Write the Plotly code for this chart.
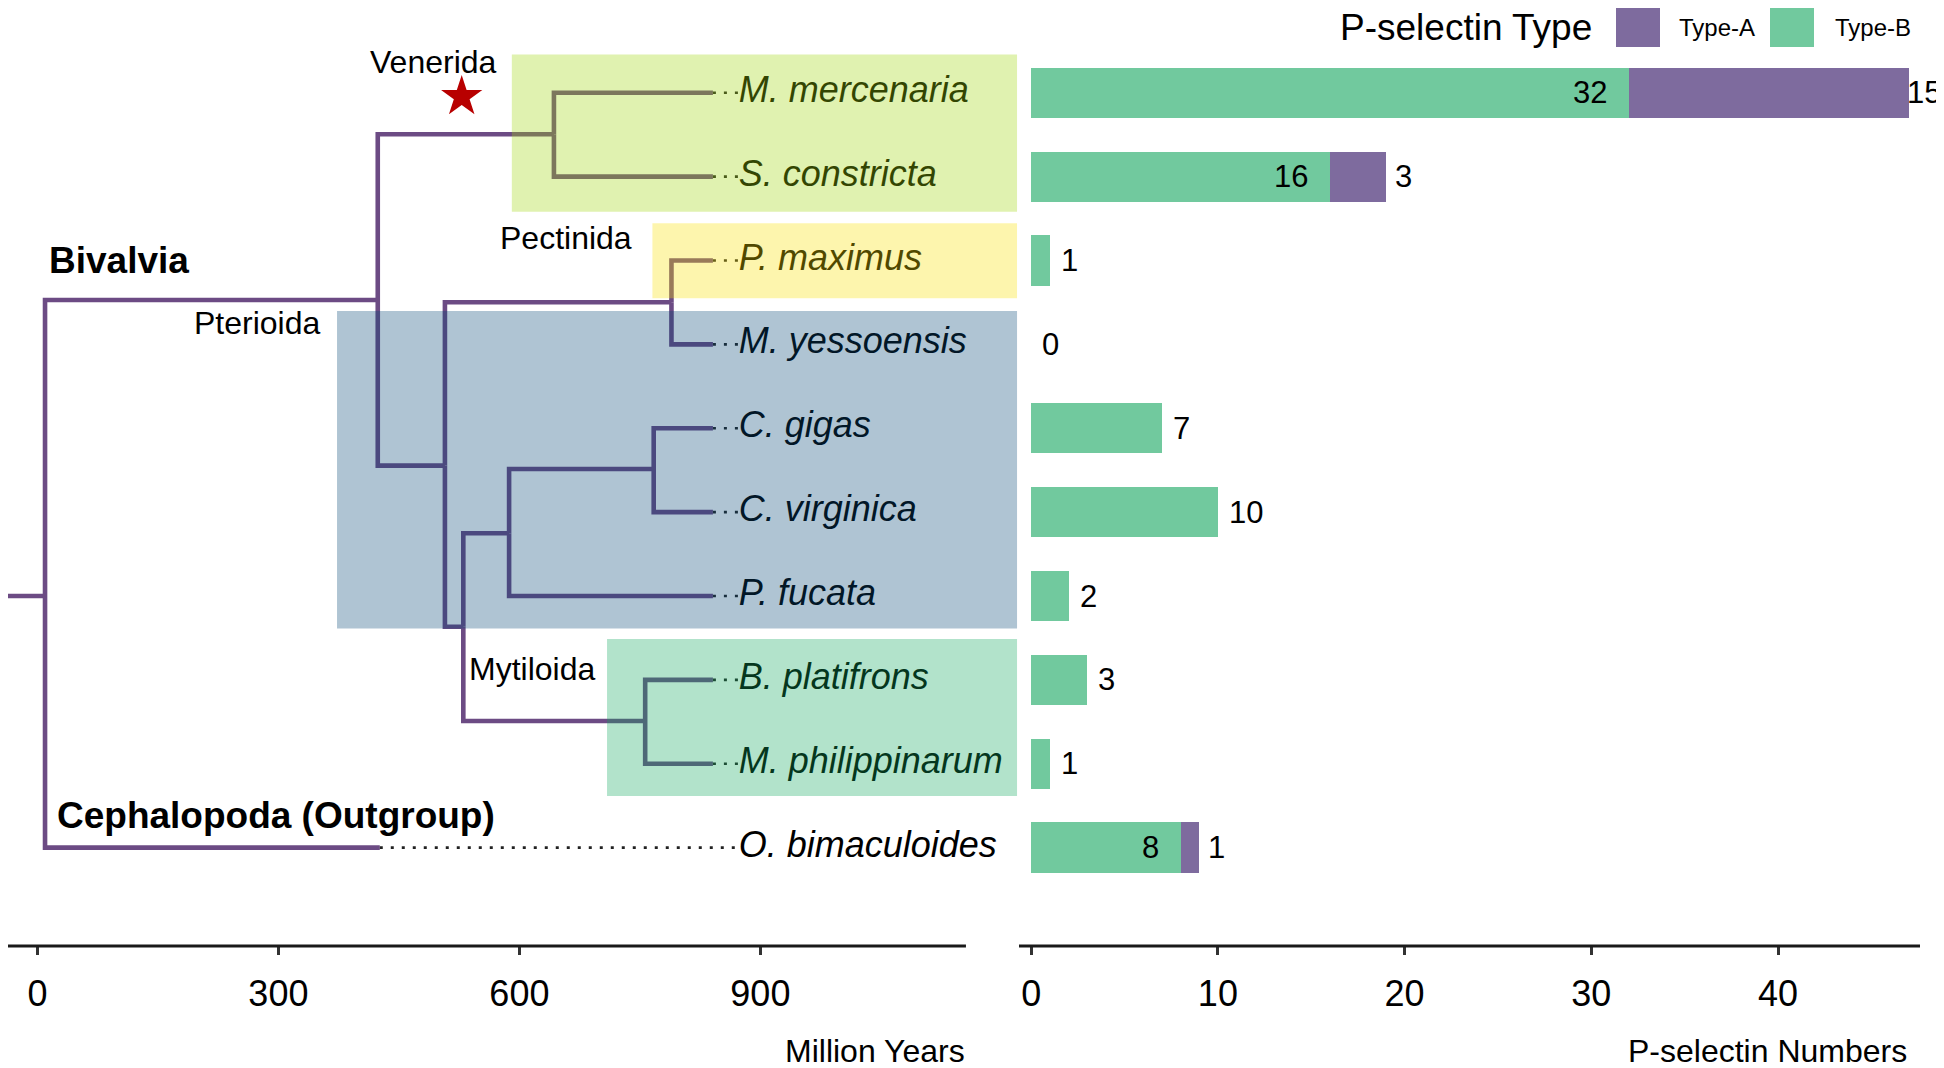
import plotly.graph_objects as go

# page body has an 8px margin, so the figure is drawn 8px smaller and offset
PAGE_W, PAGE_H = 1944, 1068
OFF = 8
W, H = PAGE_W - OFF, PAGE_H - OFF
FONT = "Liberation Sans, Arial, sans-serif"

# ---------------- data ----------------
species = ["M. mercenaria", "S. constricta", "P. maximus", "M. yessoensis", "C. gigas",
           "C. virginica", "P. fucata", "B. platifrons", "M. philippinarum", "O. bimaculoides"]
rows = [10, 9, 8, 7, 6, 5, 4, 3, 2, 1]
type_b = [32, 16, 1, 0, 7, 10, 2, 3, 1, 8]
type_a = [15, 3, 0, 0, 0, 0, 0, 0, 0, 1]

# tree nodes: name, parent, age position (million years), row position
node_names = ["root", "Bivalvia", "Venerida", "Pteriomorphia", "Pectinida", "nB", "nC",
              "Crassostrea", "Mytiloida"] + species
node_parent = [None, "root", "Bivalvia", "Bivalvia", "Pteriomorphia", "Pteriomorphia", "nB",
               "nC", "nB",
               "Venerida", "Venerida", "Pectinida", "Pectinida", "Crassostrea", "Crassostrea",
               "nC", "Mytiloida", "Mytiloida", "root"]
node_x = [9.5, 423.7, 643.0, 507.3, 789.3, 530.2, 587.2, 767.2, 756.6,
          840.9, 840.9, 840.9, 840.9, 840.9, 840.9, 840.9, 840.9, 840.9, 426.2]
node_y = [4.0, 7.53, 9.505, 5.555, 7.502, 3.634, 4.748, 5.514, 2.51] + rows
root_stub_x = -40.3
label_x = 873.0          # aligned tip labels

# clade highlight boxes
clade_names = ["Venerida", "Pectinida", "Pterioida", "Mytiloida"]
clade_x0 = [590.6, 765.6, 373.0, 709.1]
clade_y0 = [8.581, 7.551, 3.613, 1.616]
clade_y1 = [10.458, 8.446, 7.398, 3.486]
clade_colors = ["rgb(158,214,8)", "rgb(249,224,0)", "rgb(5,71,118)", "rgb(14,167,92)"]
clade_label_x = [575.0, 742.7, 355.9, 696.2]
clade_label_y = [10.367, 8.273, 7.255, 3.135]
box_right = 1219.5

group_labels = ["Bivalvia", "Cephalopoda (Outgroup)"]
group_label_x = [12.0, 22.0]
group_label_y = [8.006, 1.389]

star_x, star_y = 528.2, 9.953

years_ticks = [0, 300, 600, 900]
count_ticks = [0, 10, 20, 30, 40]

# ---------------- layout geometry ----------------
def px_x(p):
    return (p - OFF) / W

def px_y(p):
    return 1 - (p - OFF) / H

y_dom = [px_y(946), 1.0]
y_rng = [-0.173, 10 + (92.8 - OFF) / 83.87]
x2_rng = [-0.653, (1944 - 1031.2) / 18.67]

fig = go.Figure()

# tree edges (elbow layout)
pos = {n: (x, y) for n, x, y in zip(node_names, node_x, node_y)}
ex, ey = [root_stub_x, pos["root"][0], None], [pos["root"][1], pos["root"][1], None]
for n, p in zip(node_names, node_parent):
    if p is None:
        continue
    px_, py_ = pos[p]
    cx, cy = pos[n]
    ex += [px_, px_, cx, None]
    ey += [py_, cy, cy, None]
fig.add_trace(go.Scatter(x=ex, y=ey, mode="lines", xaxis="x", yaxis="y",
                         line=dict(color="#6c4b84", width=4.6), hoverinfo="skip",
                         showlegend=False))

# dotted leaders to aligned labels
lx, ly = [], []
for s, r in zip(species, rows):
    lx += [pos[s][0], label_x, None]
    ly += [r, r, None]
fig.add_trace(go.Scatter(x=lx, y=ly, mode="lines", xaxis="x", yaxis="y",
                         line=dict(color="#222222", width=2.6, dash="3px,8px"),
                         hoverinfo="skip", showlegend=False))

# tip labels
fig.add_trace(go.Scatter(x=[label_x] * len(species), y=rows, mode="text", text=species,
                         textposition="middle right", xaxis="x", yaxis="y",
                         textfont=dict(family=FONT, size=36, color="black", style="italic"),
                         cliponaxis=False, hoverinfo="skip", showlegend=False))

# star
fig.add_trace(go.Scatter(x=[star_x], y=[star_y], mode="markers", xaxis="x", yaxis="y",
                         marker=dict(symbol="star", size=31, color="#b80000", line=dict(width=0)),
                         hoverinfo="skip", showlegend=False))

# bars
fig.add_trace(go.Bar(y=rows, x=type_b, orientation="h", width=0.6, name="Type-B",
                     marker=dict(color="#71c99e", line=dict(width=0)),
                     xaxis="x2", yaxis="y2", showlegend=False))
fig.add_trace(go.Bar(y=rows, x=type_a, orientation="h", width=0.6, name="Type-A",
                     marker=dict(color="#7e6b9e", line=dict(width=0)),
                     xaxis="x2", yaxis="y2", showlegend=False))

lab_font = dict(family=FONT, size=31, color="black")
annotations = []
for r, b, a in zip(rows, type_b, type_a):
    if a > 0:
        annotations.append(dict(x=b, y=r, xref="x2", yref="y2", text=str(b), showarrow=False,
                                xanchor="right", yanchor="middle", xshift=-20, font=lab_font))
        total = b + a
        if total > x2_rng[1] - 2.5:
            # would run past the page edge: pin it to the right edge
            annotations.append(dict(x=1.0, y=r, xref="paper", yref="y2", text=str(a),
                                    showarrow=False, xanchor="right", yanchor="middle",
                                    xshift=-1, font=lab_font))
        else:
            annotations.append(dict(x=total, y=r, xref="x2", yref="y2", text=str(a),
                                    showarrow=False, xanchor="left", yanchor="middle",
                                    xshift=7, font=lab_font))
    else:
        annotations.append(dict(x=b, y=r, xref="x2", yref="y2", text=str(b), showarrow=False,
                                xanchor="left", yanchor="middle", xshift=9, font=lab_font))

for name, x, y in zip(clade_names, clade_label_x, clade_label_y):
    annotations.append(dict(x=x, y=y, xref="x", yref="y", text=name, showarrow=False,
                            xanchor="right", yanchor="middle",
                            font=dict(family=FONT, size=32, color="black")))
for name, x, y in zip(group_labels, group_label_x, group_label_y):
    annotations.append(dict(x=x, y=y, xref="x", yref="y", text="<b>" + name + "</b>",
                            showarrow=False, xanchor="left", yanchor="middle",
                            font=dict(family=FONT, size=37, color="black")))

# axis titles
annotations.append(dict(x=px_x(967), y=px_y(1051), xref="paper", yref="paper",
                        text="Million Years", showarrow=False, xanchor="right", yanchor="middle",
                        font=dict(family=FONT, size=32, color="black")))
annotations.append(dict(x=px_x(1909), y=px_y(1051), xref="paper", yref="paper",
                        text="P-selectin Numbers", showarrow=False, xanchor="right",
                        yanchor="middle", font=dict(family=FONT, size=32, color="black")))

# manual legend
annotations.append(dict(x=px_x(1338), y=px_y(28), xref="paper", yref="paper",
                        text="P-selectin Type", showarrow=False, xanchor="left", yanchor="middle",
                        font=dict(family=FONT, size=37, color="black")))
annotations.append(dict(x=px_x(1677), y=px_y(27), xref="paper", yref="paper",
                        text="Type-A", showarrow=False, xanchor="left", yanchor="middle",
                        font=dict(family=FONT, size=24, color="black")))
annotations.append(dict(x=px_x(1833), y=px_y(27), xref="paper", yref="paper",
                        text="Type-B", showarrow=False, xanchor="left", yanchor="middle",
                        font=dict(family=FONT, size=24, color="black")))

shapes = []
for x0, y0, y1, c in zip(clade_x0, clade_y0, clade_y1, clade_colors):
    shapes.append(dict(type="rect", xref="x", yref="y", x0=x0, x1=box_right, y0=y0, y1=y1,
                       fillcolor=c, opacity=0.32, line=dict(width=0), layer="above"))
# left axis line
shapes.append(dict(type="line", xref="x", yref="paper", x0=-44.0, x1=1155.9,
                   y0=y_dom[0], y1=y_dom[0], line=dict(color="#1a1a1a", width=3)))
# right axis line (ends before the page edge as in the reference)
shapes.append(dict(type="line", xref="x2", yref="paper", x0=x2_rng[0],
                   x1=(1920 - 1031.2) / 18.67, y0=y_dom[0], y1=y_dom[0],
                   line=dict(color="#1a1a1a", width=3)))
# legend keys
shapes.append(dict(type="rect", xref="paper", yref="paper", x0=px_x(1616), x1=px_x(1660),
                   y0=px_y(47), y1=1.0, fillcolor="#7e6b9e", line=dict(width=0)))
shapes.append(dict(type="rect", xref="paper", yref="paper", x0=px_x(1770), x1=px_x(1814),
                   y0=px_y(47), y1=1.0, fillcolor="#71c99e", line=dict(width=0)))

tickfont = dict(family=FONT, size=36, color="black")
fig.update_layout(
    width=W, height=H, margin=dict(l=0, r=0, t=0, b=0),
    paper_bgcolor="white", plot_bgcolor="white",
    barmode="stack", showlegend=False,
    font=dict(family=FONT),
    xaxis=dict(domain=[px_x(8), px_x(1018)], range=[(8 - 37.4) / 0.8033, 1220.7], anchor="y",
               tickvals=years_ticks, ticks="outside", ticklen=8, tickwidth=2.5,
               tickcolor="#333333", showline=False, showgrid=False, zeroline=False,
               tickfont=tickfont, ticklabelstandoff=8),
    yaxis=dict(domain=y_dom, range=y_rng, visible=False, anchor="x"),
    xaxis2=dict(domain=[px_x(1019), px_x(1944)], range=x2_rng, anchor="y2",
                tickvals=count_ticks, ticks="outside", ticklen=8, tickwidth=2.5,
                tickcolor="#333333", showline=False, showgrid=False, zeroline=False,
                tickfont=tickfont, ticklabelstandoff=8),
    yaxis2=dict(domain=y_dom, range=y_rng, visible=False, anchor="x2"),
    annotations=annotations, shapes=shapes,
)

fig.write_html("out.html")
